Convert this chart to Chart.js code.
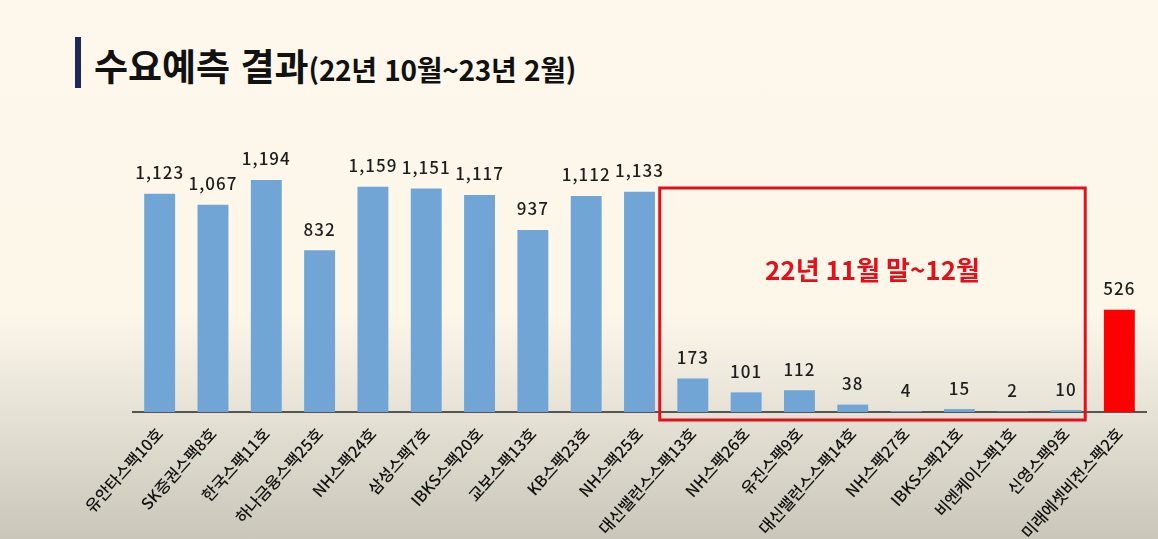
<!DOCTYPE html>
<html lang="ko">
<head>
<meta charset="utf-8">
<script src="https://cdn.jsdelivr.net/npm/chart.js@4.4.0/dist/chart.umd.min.js"></script>
<style>
  html, body { margin: 0; padding: 0; }
  body {
    width: 1158px; height: 539px; overflow: hidden; position: relative;
    background: linear-gradient(to bottom, #fdf8eb 0%, #fcf7e9 58%, #e4e0d4 78%, #cac6b9 100%);
    font-family: "Noto Sans CJK KR", "Noto Sans", sans-serif;
  }
  #wrap { position: absolute; left: 0; top: 0; width: 1158px; height: 539px; }
  #titlebar { position: absolute; left: 75px; top: 37px; width: 6px; height: 51px; background: #1b2a5c; }
  #title { position: absolute; left: 94px; top: 84px; transform: translateY(-100%); white-space: nowrap; color: #111; font-weight: 700; line-height: 1; }
  #title .main { font-size: 37px; }
  #title .sub { font-size: 28px; letter-spacing: -0.3px; }
</style>
</head>
<body>
<div id="titlebar"></div>
<div id="title"><span class="main">수요예측 결과</span><span class="sub">(22년 10월~23년 2월)</span></div>
<div id="wrap"><canvas id="c"></canvas></div>
<script>
const categories = ['유안타스팩10호','SK증권스팩8호','한국스팩11호','하나금융스팩25호','NH스팩24호','삼성스팩7호','IBKS스팩20호','교보스팩13호','KB스팩23호','NH스팩25호','대신밸런스스팩13호','NH스팩26호','유진스팩9호','대신밸런스스팩14호','NH스팩27호','IBKS스팩21호','비엔케이스팩1호','신영스팩9호','미래에셋비전스팩2호'];
const values = [1123,1067,1194,832,1159,1151,1117,937,1112,1133,173,101,112,38,4,15,2,10,526];
const highlightFirst = 10;
const highlightLast = 17;
const highlightLabel = '22년 11월 말~12월';

const BLUE = '#70a5d6';
const RED = '#ff0000';

const overlay = {
  id: 'overlay',
  afterDatasetsDraw(chart) {
    const ctx = chart.ctx;
    const xs = chart.scales.x, ys = chart.scales.y;
    const meta = chart.getDatasetMeta(0);
    ctx.save();
    ctx.fillStyle = '#1e1e1e';
    ctx.font = '500 17px "Noto Sans CJK KR", "Noto Sans", sans-serif';
    if ('letterSpacing' in ctx) ctx.letterSpacing = '1px';
    ctx.textAlign = 'center';
    ctx.textBaseline = 'middle';
    meta.data.forEach((bar, i) => {
      ctx.fillText(values[i].toLocaleString('en-US'), bar.x, bar.y - 21);
    });
    if ('letterSpacing' in ctx) ctx.letterSpacing = '0px';
    // highlight box
    const left = xs.getPixelForValue(highlightFirst - 0.62);
    const right = xs.getPixelForValue(highlightLast + 0.36);
    const top = ys.getPixelForValue(1153);
    const bottom = ys.getPixelForValue(0) + 8;
    ctx.strokeStyle = '#e3101c';
    ctx.lineWidth = 3;
    ctx.strokeRect(left, top, right - left, bottom - top);
    ctx.fillStyle = '#e3101c';
    ctx.font = '700 26px "Noto Sans CJK KR", "Noto Sans", sans-serif';
    ctx.fillText(highlightLabel, (left + right) / 2, ys.getPixelForValue(731));
    ctx.restore();
  }
};

new Chart(document.getElementById('c'), {
  type: 'bar',
  data: {
    labels: categories,
    datasets: [{
      data: values,
      backgroundColor: values.map((v, i) => i === values.length - 1 ? RED : BLUE),
      barPercentage: 0.58,
      categoryPercentage: 1.0,
      borderWidth: 0
    }]
  },
  options: {
    responsive: true,
    maintainAspectRatio: false,
    animation: false,
    devicePixelRatio: 1,
    layout: { padding: { left: 133, right: 12, top: 140, bottom: 0 } },
    plugins: { legend: { display: false }, tooltip: { enabled: false } },
    scales: {
      x: {
        grid: { display: false },
        border: { display: true, color: '#555', width: 2 },
        ticks: {
          autoSkip: false,
          maxRotation: 48,
          minRotation: 48,
          padding: 4,
          color: '#111',
          font: { family: '"Noto Sans CJK KR", "Noto Sans", sans-serif', size: 16, weight: '500' }
        },
        afterFit(scale) { scale.height = 127; }
      },
      y: { display: false, min: 0, max: 1400 }
    }
  },
  plugins: [overlay]
});
</script>
</body>
</html>
